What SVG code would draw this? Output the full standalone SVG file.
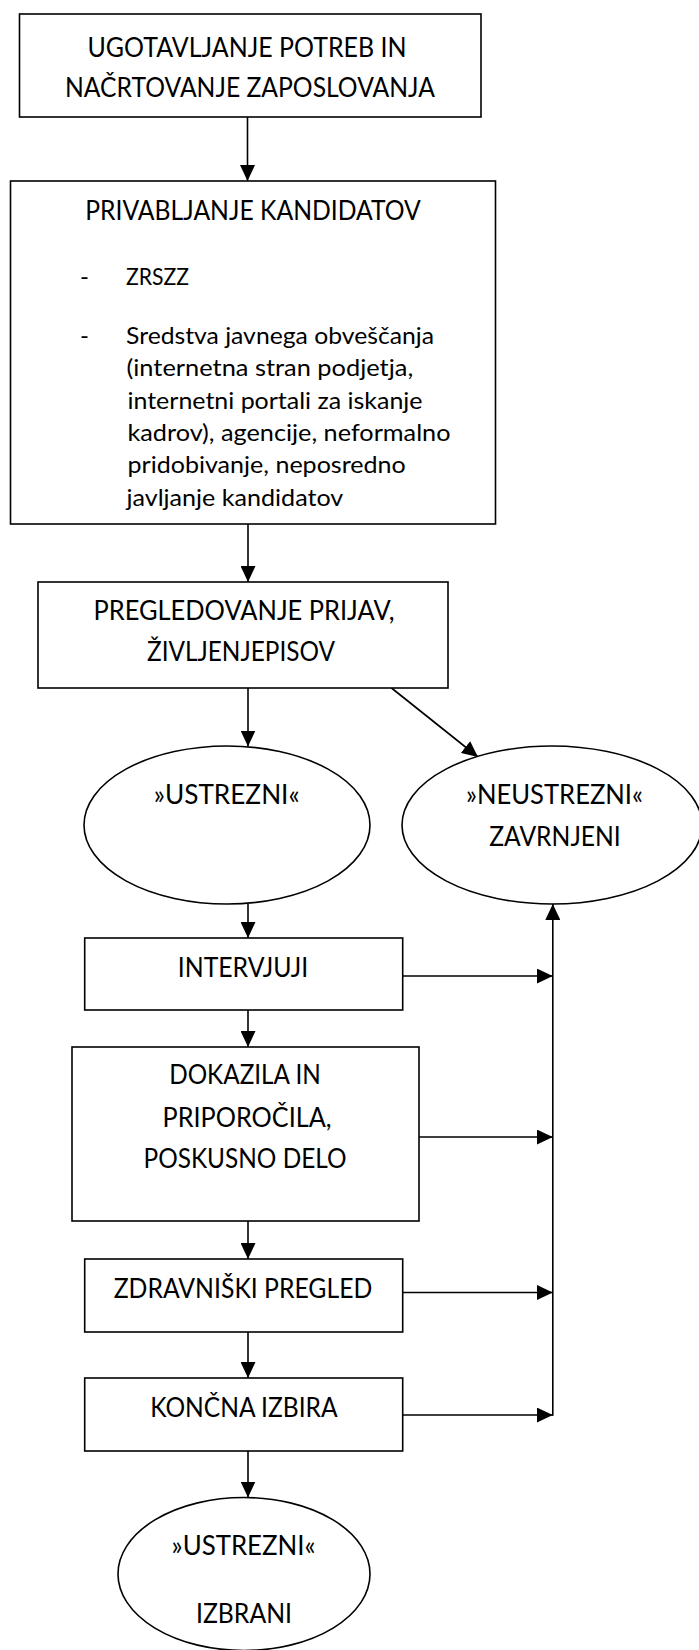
<svg xmlns="http://www.w3.org/2000/svg" width="699" height="1650" viewBox="0 0 699 1650">
  <style>
    .box { fill: #fff; stroke: #000; stroke-width: 1.6; }
    .t { font-family: Lato, "Liberation Sans", sans-serif; font-size: 26px; fill: #000; text-anchor: middle; }
    .b { font-family: Lato, "Liberation Sans", sans-serif; font-size: 24px; fill: #000; }
    .c { stroke: #000; stroke-width: 1.6; fill: none; marker-end: url(#arr); }
  </style>
  <defs>
    <marker id="arr" markerUnits="userSpaceOnUse" markerWidth="16" markerHeight="15" viewBox="0 0 16 15" refX="16" refY="7.5" orient="auto">
      <path d="M0,0 L16,7.5 L0,15 z" fill="#000"/>
    </marker>
  </defs>
  <rect width="699" height="1650" fill="#fff"/>

  <!-- connectors -->
  <g id="connectors">
    <line class="c" x1="247.5" y1="117" x2="247.5" y2="181"/>
    <line class="c" x1="248" y1="524" x2="248" y2="582"/>
    <line class="c" x1="248" y1="688" x2="248" y2="746.5"/>
    <line class="c" x1="391.5" y1="688" x2="478" y2="757"/>
    <line class="c" x1="248" y1="904" x2="248" y2="938"/>
    <line class="c" x1="248" y1="1010" x2="248" y2="1047"/>
    <line class="c" x1="248" y1="1221" x2="248" y2="1259"/>
    <line class="c" x1="248" y1="1332" x2="248" y2="1378"/>
    <line class="c" x1="248" y1="1451" x2="248" y2="1497.5"/>
    <line class="c" x1="402.5" y1="976" x2="552.8" y2="976"/>
    <line class="c" x1="419" y1="1137" x2="552.8" y2="1137"/>
    <line class="c" x1="402.5" y1="1292.5" x2="552.8" y2="1292.5"/>
    <line class="c" x1="402.5" y1="1415" x2="552.8" y2="1415"/>
    <line class="c" x1="552.8" y1="1415.8" x2="552.8" y2="904"/>
  </g>

  <g id="n-potrebe">
    <rect class="box" x="19.5" y="14" width="461.5" height="103" stroke-width="2"/>
    <text class="t" x="247" y="57" font-size="27" textLength="319" lengthAdjust="spacingAndGlyphs">UGOTAVLJANJE POTREB IN</text>
    <text class="t" x="250" y="97" font-size="27" textLength="370" lengthAdjust="spacingAndGlyphs">NAČRTOVANJE ZAPOSLOVANJA</text>
  </g>

  <g id="n-privabljanje">
    <rect class="box" x="10.5" y="181" width="485" height="343"/>
    <text class="t" x="253" y="220" textLength="335.7" lengthAdjust="spacingAndGlyphs">PRIVABLJANJE KANDIDATOV</text>
    <text class="b" x="80" y="285">-</text>
    <text class="b" x="126" y="285" textLength="63" lengthAdjust="spacingAndGlyphs">ZRSZZ</text>
    <text class="b" x="80" y="344">-</text>
    <text class="b" x="126" y="344" textLength="308" lengthAdjust="spacingAndGlyphs">Sredstva javnega obveščanja</text>
    <text class="b" x="126.5" y="376.3" textLength="286.7" lengthAdjust="spacingAndGlyphs">(internetna stran podjetja,</text>
    <text class="b" x="127.5" y="408.6" textLength="295" lengthAdjust="spacingAndGlyphs">internetni portali za iskanje</text>
    <text class="b" x="127.5" y="440.9" textLength="323" lengthAdjust="spacingAndGlyphs">kadrov), agencije, neformalno</text>
    <text class="b" x="127.5" y="473.2" textLength="278.3" lengthAdjust="spacingAndGlyphs">pridobivanje, neposredno</text>
    <text class="b" x="126.5" y="505.5" textLength="216.7" lengthAdjust="spacingAndGlyphs">javljanje kandidatov</text>
  </g>

  <g id="n-pregledovanje">
    <rect class="box" x="38" y="582" width="410" height="106"/>
    <text class="t" x="244" y="620" textLength="301" lengthAdjust="spacingAndGlyphs">PREGLEDOVANJE PRIJAV,</text>
    <text class="t" x="241" y="661" textLength="188" lengthAdjust="spacingAndGlyphs">ŽIVLJENJEPISOV</text>
  </g>

  <g id="n-ustrezni">
    <ellipse class="box" cx="227" cy="825" rx="143" ry="79"/>
    <text class="t" x="226.7" y="804" textLength="146" lengthAdjust="spacingAndGlyphs">»USTREZNI«</text>
  </g>

  <g id="n-neustrezni">
    <ellipse class="box" cx="552" cy="825" rx="150" ry="79"/>
    <text class="t" x="554.5" y="804" textLength="177" lengthAdjust="spacingAndGlyphs">»NEUSTREZNI«</text>
    <text class="t" x="555" y="846" textLength="131.6" lengthAdjust="spacingAndGlyphs">ZAVRNJENI</text>
  </g>

  <g id="n-intervjuji">
    <rect class="box" x="84.7" y="938" width="318" height="72"/>
    <text class="t" x="243" y="977" textLength="130.5" lengthAdjust="spacingAndGlyphs">INTERVJUJI</text>
  </g>

  <g id="n-dokazila">
    <rect class="box" x="72" y="1047" width="347" height="174"/>
    <text class="t" x="245" y="1084" textLength="151.6" lengthAdjust="spacingAndGlyphs">DOKAZILA IN</text>
    <text class="t" x="247" y="1126.5" textLength="169" lengthAdjust="spacingAndGlyphs">PRIPOROČILA,</text>
    <text class="t" x="245" y="1167.5" textLength="203" lengthAdjust="spacingAndGlyphs">POSKUSNO DELO</text>
  </g>

  <g id="n-zdravniski">
    <rect class="box" x="84.7" y="1259" width="318" height="73"/>
    <text class="t" x="243" y="1298" textLength="258.6" lengthAdjust="spacingAndGlyphs">ZDRAVNIŠKI PREGLED</text>
  </g>

  <g id="n-koncna">
    <rect class="box" x="84.7" y="1378" width="318" height="73"/>
    <text class="t" x="243.9" y="1417" textLength="187.3" lengthAdjust="spacingAndGlyphs">KONČNA IZBIRA</text>
  </g>

  <g id="n-izbrani">
    <ellipse class="box" cx="244" cy="1574" rx="126" ry="76.5"/>
    <text class="t" x="243.6" y="1555" textLength="144" lengthAdjust="spacingAndGlyphs">»USTREZNI«</text>
    <text class="t" x="244" y="1623" textLength="96" lengthAdjust="spacingAndGlyphs">IZBRANI</text>
  </g>
</svg>
